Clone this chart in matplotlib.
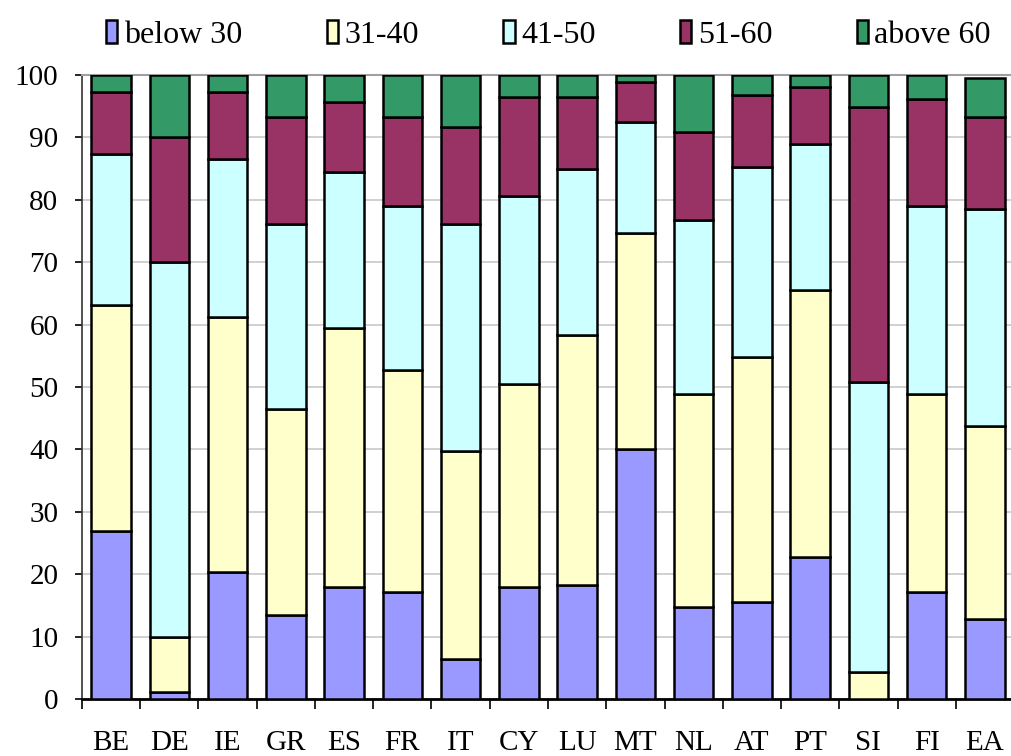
#!/usr/bin/env python3
"""Age structure by country - stacked 100% bars"""
import matplotlib
matplotlib.use("Agg")
import matplotlib.pyplot as plt
from matplotlib.ticker import FixedLocator
import numpy as np

plt.rcParams["font.family"] = ["Liberation Serif", "DejaVu Serif"]

# ===== data =====
countries = ["BE", "DE", "IE", "GR", "ES", "FR", "IT", "CY",
             "LU", "MT", "NL", "AT", "PT", "SI", "FI", "EA"]
groups = ["below 30", "31-40", "41-50", "51-60", "above 60"]

below_30 = [27.0, 1.2, 20.3, 13.5, 18.0, 17.2, 6.4, 18.0,
            18.3, 40.1, 14.8, 15.6, 22.7, 0.0, 17.2, 12.8]
age_31_40 = [36.1, 8.8, 40.9, 33.0, 41.5, 35.6, 33.3, 32.5,
             40.1, 34.6, 34.1, 39.2, 42.9, 4.4, 31.7, 30.9]
age_41_50 = [24.2, 60.0, 25.3, 29.7, 25.0, 26.2, 36.5, 30.1,
             26.5, 17.7, 27.8, 30.5, 23.3, 46.4, 30.1, 34.9]
age_51_60 = [9.9, 20.0, 10.7, 17.0, 11.1, 14.2, 15.4, 15.9,
             11.5, 6.5, 14.1, 11.5, 9.2, 44.1, 17.1, 14.7]
above_60 = [2.8, 10.0, 2.8, 6.8, 4.4, 6.8, 8.4, 3.5,
            3.6, 1.1, 9.2, 3.2, 1.9, 5.1, 3.9, 6.2]

colors = ["#9999FF", "#FFFFCC", "#CCFFFF", "#993366", "#339966"]

# ===== chart =====
fig = plt.figure(figsize=(10.12, 7.56), dpi=100)
ax = fig.add_axes([0.081, 0.0754, 0.921, 0.8254])

x = np.arange(len(countries))
bottom = np.zeros(len(countries))
handles = []
for name, vals, c in zip(groups, [below_30, age_31_40, age_41_50, age_51_60, above_60], colors):
    vals = np.array(vals)
    b = ax.bar(x, vals, bottom=bottom, width=0.68, color=c,
               edgecolor="black", linewidth=1.8, label=name, zorder=3)
    handles.append(b)
    bottom += vals

ax.set_xlim(-0.5, len(countries) - 0.5)
ax.set_ylim(0, 100)
ax.set_yticks(range(0, 101, 10))
ax.yaxis.grid(True, color="#C8C8C8", linewidth=1.2, zorder=0)

ax.set_xticks(x)
ax.set_xticklabels(countries, fontsize=21)
ax.xaxis.set_minor_locator(FixedLocator(np.arange(-0.5, len(countries), 1.0)))
ax.tick_params(axis="x", which="major", length=0, pad=22)
ax.tick_params(axis="x", which="minor", length=7, width=1.2, direction="out")
ax.tick_params(axis="y", length=5, width=1.2, direction="out", pad=12, labelsize=21)

for s in ["top", "right"]:
    ax.spines[s].set_color("#A0A0A0")
    ax.spines[s].set_linewidth(1.5)
ax.spines["left"].set_color("#333333")
ax.spines["left"].set_linewidth(1.2)
ax.spines["bottom"].set_color("black")
ax.spines["bottom"].set_linewidth(2)

leg = fig.legend(handles=handles, labels=groups, loc="upper center",
                 bbox_to_anchor=(0.542, 1.012), ncol=5, frameon=False,
                 fontsize=23, handlelength=0.35, handleheight=0.75,
                 handletextpad=0.2, columnspacing=2.65)
for h in leg.legend_handles:
    h.set_linewidth(1.8)

fig.savefig("out.png", dpi=100)
plt.close()
